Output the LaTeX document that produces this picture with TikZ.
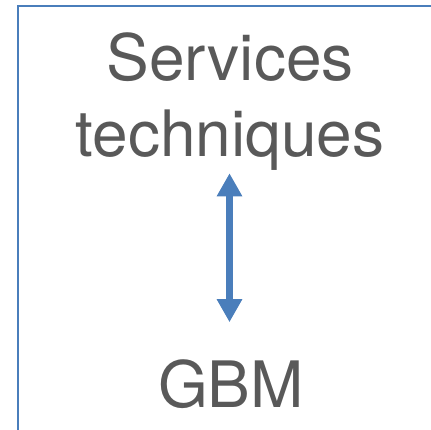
\documentclass[tikz,border=0pt]{standalone}
\usepackage{fontspec}
\setmainfont{TeX Gyre Heros}
\usetikzlibrary{arrows.meta}
\definecolor{frameblue}{RGB}{74,126,187}
\definecolor{labelgray}{RGB}{89,89,89}
\newcommand*\shaftwd{7.5pt}
\tikzset{
    label/.style   = {inner sep=0pt, outer sep=0pt, text=labelgray,
                     align=center, font=\fontsize{64}{76}\selectfont},
    frameline/.style = {draw=frameblue, line width=2pt},
    biarrow/.style = {draw=frameblue, line width=\shaftwd,
                     {Triangle[width=24pt,length=23pt]}-{Triangle[width=24pt,length=23pt]}},
  }
\begin{document}
\begin{tikzpicture}[x=1pt,y=-1pt]
        % fix the page to the reference size
        \useasboundingbox (0,0) rectangle (431,429);

        % frame: only the top and left sides show
        \draw[frameline] (432,6) -- (18,6) -- (18,430);

        % the two labels
        \node[label, anchor=north] (serv) at (230,33) {Services\\techniques};
        \node[label, anchor=base] (gbm) at (231,407) {GBM};

        % link between them
        \draw[biarrow, shorten <=2.5pt, shorten >=37pt] (serv.south -| 229.5,0) -- (gbm.north -| 229.5,0);
    \end{tikzpicture}
\end{document}
